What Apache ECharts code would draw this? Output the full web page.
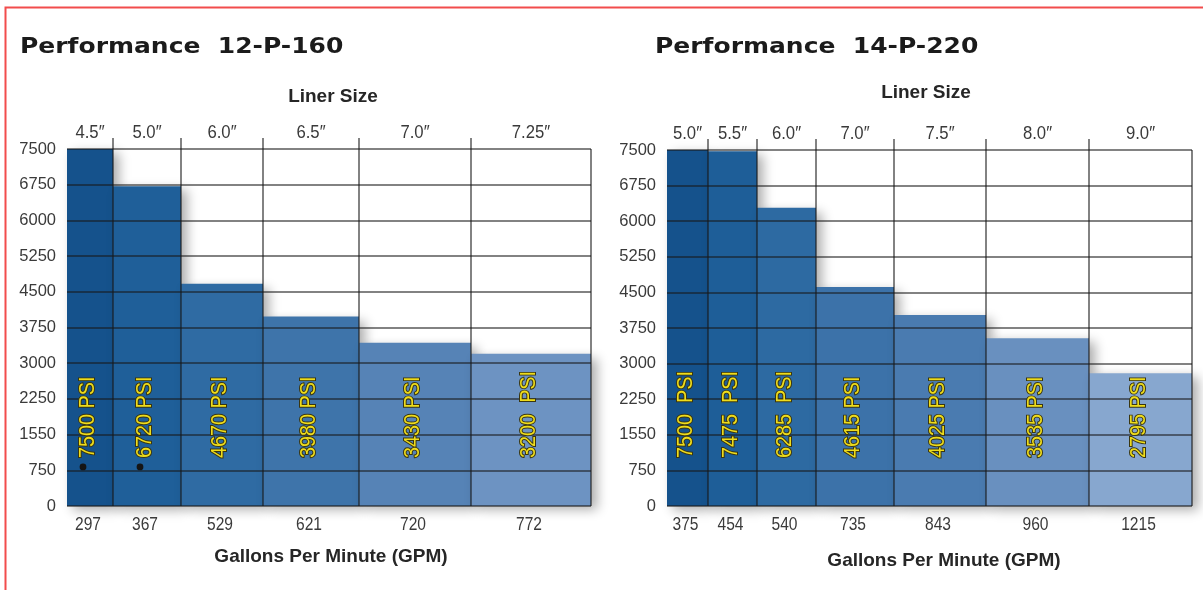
<!DOCTYPE html>
<html><head><meta charset="utf-8">
<script src="https://cdn.jsdelivr.net/npm/echarts@6/dist/echarts.min.js"></script>
<style>html,body{margin:0;padding:0;background:#fff}#c{width:1203px;height:590px}</style>
</head><body><div id="c"></div>
<script>
// ---------------- data ----------------
const yTickLabels = ['0', '750', '1550', '2250', '3000', '3750', '4500', '5250', '6000', '6750', '7500'];
const xTopTitle = 'Liner Size';
const xBottomTitle = 'Gallons Per Minute (GPM)';

const leftTitle = 'Performance  12-P-160';
const leftLiners = ['4.5″', '5.0″', '6.0″', '6.5″', '7.0″', '7.25″'];
const leftGPM = ['297', '367', '529', '621', '720', '772'];
const leftPSI = [7500, 6720, 4670, 3980, 3430, 3200];
const leftPSILabels = ['7500 PSI', '6720 PSI', '4670 PSI', '3980 PSI', '3430 PSI', '3200  PSI'];
const leftMarked = [true, true, false, false, false, false];

const rightTitle = 'Performance  14-P-220';
const rightLiners = ['5.0″', '5.5″', '6.0″', '7.0″', '7.5″', '8.0″', '9.0″'];
const rightGPM = ['375', '454', '540', '735', '843', '960', '1215'];
const rightPSI = [7500, 7475, 6285, 4615, 4025, 3535, 2795];
const rightPSILabels = ['7500  PSI', '7475  PSI', '6285  PSI', '4615 PSI', '4025 PSI', '3535 PSI', '2795 PSI'];
const rightMarked = [false, false, false, false, false, false, false];

// ---------------- layout / style ----------------
const leftColWidths = [46, 68, 82, 96, 112, 120];
const rightColWidths = [41, 49, 59, 78, 92, 103, 103];
const leftColors = ['#15528c', '#1f5f99', '#2f6ba3', '#3e74aa', '#5683b6', '#6d93c2'];
const rightColors = ['#15528c', '#1e5e98', '#2d6aa2', '#3c72a9', '#4a7bb0', '#6990bf', '#87a7cf'];
const Y_MAX = 7500, Y_STEP = 750;
const LABEL_BASE = 1010;   // value level where PSI label text starts
const MARK_LEVEL = 820;    // value level of the asterisk
const SANS = "'Liberation Sans', Arial, sans-serif";
const GRID_LINE = 'rgba(25,25,25,0.72)';

const chart = echarts.init(document.getElementById('c'));

function panelData(widths, psi) {
  let acc = 0;
  return psi.map((v, i) => { const x0 = acc; acc += widths[i]; return [x0, acc, v, i]; });
}

function barsSeries(gi, widths, psi, colors) {
  return {
    type: 'custom', xAxisIndex: gi, yAxisIndex: gi, z: 2,
    data: panelData(widths, psi),
    renderItem(params, api) {
      const x0 = api.value(0), x1 = api.value(1), v = api.value(2), i = api.value(3);
      const tl = api.coord([x0, v]), br = api.coord([x1, 0]);
      return {
        type: 'rect',
        shape: { x: tl[0], y: tl[1], width: br[0] - tl[0], height: br[1] - tl[1] },
        style: { fill: colors[i], shadowBlur: 11, shadowOffsetX: 6, shadowOffsetY: 4, shadowColor: 'rgba(0,0,0,0.33)' }
      };
    }
  };
}

function overlaySeries(gi, widths, psi, liners, gpm, psiLabels, marked) {
  const n = psi.length;
  return {
    type: 'custom', xAxisIndex: gi, yAxisIndex: gi, z: 5, silent: true,
    data: panelData(widths, psi),
    renderItem(params, api) {
      const x0 = api.value(0), x1 = api.value(1), i = api.value(3);
      const top = api.coord([x1, Y_MAX]), bot = api.coord([x1, 0]);
      const cx = (api.coord([x0, 0])[0] + bot[0]) / 2;
      const base = api.coord([x0, LABEL_BASE])[1];
      const children = [];
      children.push({
        type: 'line',
        shape: { x1: top[0], y1: top[1] - (i < n - 1 ? 11 : 0), x2: bot[0], y2: bot[1] },
        style: { stroke: GRID_LINE, lineWidth: 1.5 }
      });
      children.push({
        type: 'text', x: cx - 2, y: base, rotation: Math.PI / 2, scaleX: 0.9,
        style: { text: psiLabels[i], align: 'left', verticalAlign: 'middle',
          font: "22px " + SANS, fill: '#eedc1c', stroke: '#3a3610', lineWidth: 2, strokeFirst: true }
      });
      if (marked[i]) {
        const my = api.coord([x0, MARK_LEVEL])[1];
        children.push({
          type: 'circle', shape: { cx: cx - 7, cy: my, r: 3.4 },
          style: { fill: '#151515' }
        });
      }
      children.push({
        type: 'text', x: cx, y: top[1] - 16, scaleX: 0.88,
        style: { text: liners[i], align: 'center', verticalAlign: 'middle', font: "19px " + SANS, fill: '#3a3a3a' }
      });
      children.push({
        type: 'text', x: cx - 2, y: bot[1] + 19, scaleX: 0.82,
        style: { text: gpm[i], align: 'center', verticalAlign: 'middle', font: "19px " + SANS, fill: '#3a3a3a' }
      });
      return { type: 'group', children };
    }
  };
}

function yAxis(gi) {
  return {
    type: 'value', gridIndex: gi, min: 0, max: Y_MAX, interval: Y_STEP, z: 3,
    axisLine: { show: false }, axisTick: { show: false },
    axisLabel: { margin: 11, color: '#3a3a3a', fontSize: 16.5, fontFamily: SANS,
      formatter: v => yTickLabels[Math.round(v / Y_STEP)] },
    splitLine: { show: true, lineStyle: { color: GRID_LINE, width: 1.5 } }
  };
}
function xAxis(gi, widths) {
  return { type: 'value', gridIndex: gi, min: 0, max: widths.reduce((a, b) => a + b, 0), show: false };
}

const sum = a => a.reduce((p, q) => p + q, 0);

chart.setOption({
  animation: false,
  grid: [
    { left: 67, top: 149, width: sum(leftColWidths), height: 357 },
    { left: 667, top: 150, width: sum(rightColWidths), height: 356 }
  ],
  xAxis: [xAxis(0, leftColWidths), xAxis(1, rightColWidths)],
  yAxis: [yAxis(0), yAxis(1)],
  series: [
    barsSeries(0, leftColWidths, leftPSI, leftColors),
    overlaySeries(0, leftColWidths, leftPSI, leftLiners, leftGPM, leftPSILabels, leftMarked),
    barsSeries(1, rightColWidths, rightPSI, rightColors),
    overlaySeries(1, rightColWidths, rightPSI, rightLiners, rightGPM, rightPSILabels, rightMarked)
  ],
  graphic: [
    { type: 'rect', silent: true, shape: { x: 5.5, y: 7.5, width: 1400, height: 700 },
      style: { fill: 'none', stroke: '#f24c4c', lineWidth: 2 } },
    { type: 'text', x: 20, y: 48, scaleX: 1.19, style: { text: leftTitle, font: "bold 21px 'DejaVu Sans'", fill: '#1b1b1b', verticalAlign: 'middle' } },
    { type: 'text', x: 655, y: 48, scaleX: 1.19, style: { text: rightTitle, font: "bold 21px 'DejaVu Sans'", fill: '#1b1b1b', verticalAlign: 'middle' } },
    { type: 'text', x: 333, y: 97, style: { text: xTopTitle, font: "bold 19px " + SANS, fill: '#262626', align: 'center', verticalAlign: 'middle' } },
    { type: 'text', x: 926, y: 93, style: { text: xTopTitle, font: "bold 19px " + SANS, fill: '#262626', align: 'center', verticalAlign: 'middle' } },
    { type: 'text', x: 331, y: 557, style: { text: xBottomTitle, font: "bold 19px " + SANS, fill: '#262626', align: 'center', verticalAlign: 'middle' } },
    { type: 'text', x: 944, y: 561, style: { text: xBottomTitle, font: "bold 19px " + SANS, fill: '#262626', align: 'center', verticalAlign: 'middle' } }
  ]
});
</script></body></html>
